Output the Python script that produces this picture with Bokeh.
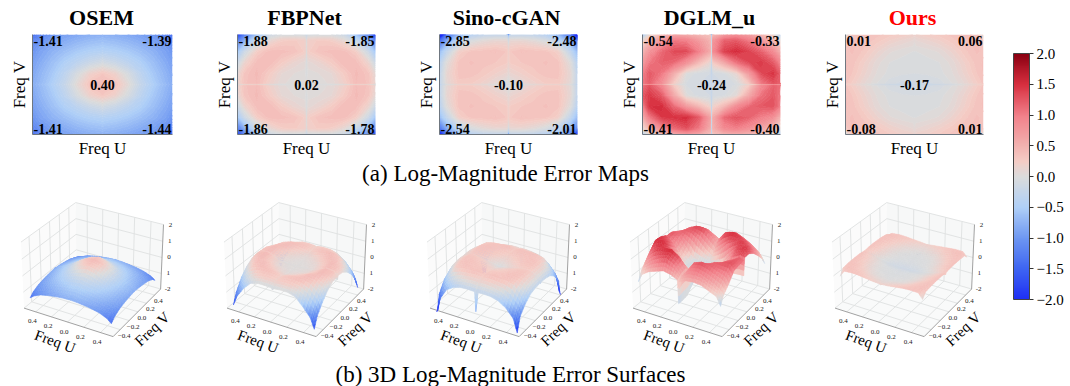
import numpy as np
from bokeh.embed import file_html
from bokeh.resources import INLINE
from bokeh.plotting import figure
from bokeh.layouts import row, column
from bokeh.models import Range1d, FixedTicker, ColorBar, LinearColorMapper
from bokeh.core.properties import value

# ---------- data ----------
methods = ["OSEM", "FBPNet", "Sino-cGAN", "DGLM_u", "Ours"]
title_colors = ["black", "black", "black", "black", "#ff0000"]
center_labels = ["0.40", "0.02", "-0.10", "-0.24", "-0.17"]
corner_labels = [
    ["-1.41", "-1.39", "-1.41", "-1.44"],
    ["-1.88", "-1.85", "-1.86", "-1.78"],
    ["-2.85", "-2.48", "-2.54", "-2.01"],
    ["-0.54", "-0.33", "-0.41", "-0.40"],
    ["0.01", "0.06", "-0.08", "0.01"],
]
freq_u = [-.5, -.45, -.36, -.27, -.18, -.09, -.012, 0, .012, .09, .18, .27, .36, .45, .5]
freq_v = [.5, .44, .33, .22, .11, .012, 0, -.012, -.11, -.22, -.33, -.44, -.5]

osem = [
    [-1.41, -1.22, -1.02, -.92, -.85, -.80, -.78, -.76, -.78, -.80, -.85, -.92, -1.02, -1.20, -1.39],
    [-1.20, -1.05, -.92, -.82, -.74, -.68, -.65, -.63, -.65, -.68, -.74, -.82, -.92, -1.05, -1.18],
    [-1.02, -.90, -.76, -.64, -.54, -.47, -.44, -.42, -.44, -.47, -.54, -.64, -.76, -.90, -1.00],
    [-.92, -.82, -.64, -.48, -.34, -.20, -.12, -.08, -.12, -.20, -.34, -.48, -.64, -.82, -.92],
    [-.86, -.74, -.56, -.34, -.06, .18, .28, .30, .28, .18, -.06, -.34, -.56, -.74, -.86],
    [-.82, -.70, -.50, -.26, .06, .32, .39, .40, .39, .32, .06, -.26, -.50, -.70, -.82],
    [-.80, -.68, -.48, -.24, .07, .33, .40, .40, .40, .33, .07, -.24, -.48, -.68, -.80],
    [-.82, -.70, -.50, -.26, .06, .32, .39, .40, .39, .32, .06, -.26, -.50, -.70, -.82],
    [-.86, -.74, -.56, -.34, -.06, .18, .28, .30, .28, .18, -.06, -.34, -.56, -.74, -.86],
    [-.92, -.82, -.64, -.48, -.34, -.20, -.12, -.08, -.12, -.20, -.34, -.48, -.64, -.82, -.92],
    [-1.02, -.90, -.76, -.64, -.54, -.47, -.44, -.42, -.44, -.47, -.54, -.64, -.76, -.90, -1.02],
    [-1.20, -1.05, -.92, -.82, -.74, -.68, -.65, -.63, -.65, -.68, -.74, -.82, -.92, -1.05, -1.22],
    [-1.41, -1.22, -1.02, -.92, -.85, -.80, -.78, -.76, -.78, -.80, -.85, -.92, -1.02, -1.22, -1.44],
]
fbpnet = [
    [-1.88, -1.25, -.62, -.18, -.05, -.05, -.08, -.18, -.08, -.05, -.05, -.18, -.62, -1.20, -1.85],
    [-1.25, -.80, -.22, .10, .24, .26, .22, -.06, .22, .26, .24, .10, -.22, -.75, -1.20],
    [-.60, -.18, .24, .38, .38, .34, .24, -.06, .24, .34, .38, .38, .24, -.18, -.60],
    [-.18, .15, .38, .40, .26, .14, .08, -.05, .08, .14, .26, .40, .38, .15, -.18],
    [.08, .32, .42, .26, .10, .05, .03, -.03, .03, .05, .10, .26, .42, .32, .08],
    [.14, .34, .40, .20, .06, .03, .02, .00, .02, .03, .06, .20, .40, .34, .14],
    [-.08, -.06, -.05, -.05, -.04, .00, .00, .02, .00, .00, -.04, -.05, -.05, -.06, -.08],
    [.14, .34, .40, .20, .06, .03, .02, .00, .02, .03, .06, .20, .40, .34, .14],
    [.08, .32, .42, .26, .10, .05, .03, -.03, .03, .05, .10, .26, .42, .32, .08],
    [-.18, .15, .38, .40, .26, .14, .08, -.05, .08, .14, .26, .40, .38, .15, -.18],
    [-.60, -.18, .24, .38, .38, .34, .24, -.06, .24, .34, .38, .38, .24, -.18, -.60],
    [-1.25, -.80, -.22, .10, .24, .26, .22, -.06, .22, .26, .24, .10, -.22, -.75, -1.15],
    [-1.86, -1.25, -.62, -.18, -.05, -.05, -.08, -.18, -.08, -.05, -.05, -.18, -.62, -1.15, -1.78],
]
sino = [
    [-2.85, -1.45, -.70, -.42, -.30, -.28, -.30, -1.30, -.30, -.28, -.30, -.42, -.70, -1.40, -2.48],
    [-1.45, -.90, -.34, -.05, .06, .12, .12, -.20, .12, .12, .06, -.05, -.34, -.85, -1.30],
    [-.70, -.30, .22, .32, .34, .36, .30, .15, .30, .36, .34, .32, .22, -.30, -.70],
    [-.40, .02, .32, .36, .32, .30, .26, .15, .26, .30, .32, .36, .32, .02, -.40],
    [-.30, .10, .33, .33, .28, .20, .14, .06, .14, .20, .28, .33, .33, .10, -.30],
    [-.28, .08, .28, .26, .18, .08, .00, -.05, .00, .08, .18, .26, .28, .08, -.28],
    [-.32, -.05, .08, .08, .04, -.05, -.08, -.10, -.08, -.05, .04, .08, .08, -.05, -.32],
    [-.28, .08, .28, .26, .18, .08, .00, -.05, .00, .08, .18, .26, .28, .08, -.28],
    [-.30, .10, .33, .33, .28, .20, .14, .06, .14, .20, .28, .33, .33, .10, -.30],
    [-.40, .02, .32, .36, .32, .30, .26, .15, .26, .30, .32, .36, .32, .02, -.40],
    [-.70, -.30, .22, .32, .34, .36, .30, .15, .30, .36, .34, .32, .22, -.30, -.70],
    [-1.35, -.85, -.34, -.05, .06, .12, .12, -.20, .12, .12, .06, -.05, -.34, -.80, -1.15],
    [-2.54, -1.40, -.70, -.42, -.30, -.28, -.30, -1.50, -.30, -.28, -.30, -.42, -.70, -1.20, -2.01],
]
dglm = [
    [-.54, .10, .40, .60, .55, .45, .35, -1.00, .45, .70, .85, .70, .45, .10, -.33],
    [.10, .45, .80, 1.05, 1.00, .75, .50, -1.00, .80, 1.20, 1.25, 1.05, .80, .45, .10],
    [.50, .80, 1.15, 1.35, 1.35, 1.00, .60, -.95, .90, 1.40, 1.55, 1.40, 1.20, .90, .55],
    [.75, 1.05, 1.20, 1.15, .85, .42, .14, -.55, .30, .60, 1.10, 1.35, 1.45, 1.25, .95],
    [1.00, 1.25, 1.05, .55, .00, -.08, -.10, -.30, -.10, -.06, .12, .75, 1.35, 1.50, 1.20],
    [1.05, 1.20, .85, .25, -.06, -.10, -.12, -.22, -.12, -.10, -.04, .30, 1.05, 1.30, 1.20],
    [.15, .15, .12, .05, -.06, -.10, -.12, -.22, -.12, -.10, -.05, .05, .12, .15, .15],
    [1.10, 1.30, .95, .30, -.05, -.10, -.12, -.22, -.12, -.10, -.03, .28, .90, 1.20, 1.10],
    [1.25, 1.45, 1.25, .60, .02, -.08, -.10, -.28, -.08, -.06, .06, .60, 1.10, 1.25, 1.05],
    [.95, 1.50, 1.55, 1.15, .75, .45, .20, -.55, .20, .45, .90, 1.15, 1.25, 1.30, 1.00],
    [.55, 1.05, 1.45, 1.50, 1.55, 1.25, .70, -.95, .60, 1.15, 1.30, 1.20, 1.00, .85, .50],
    [.10, .50, .90, 1.15, 1.30, 1.05, .60, -1.00, .55, .90, 1.00, .85, .65, .40, .10],
    [-.41, .10, .40, .55, .70, .60, .40, -1.00, .35, .50, .55, .50, .30, .10, -.40],
]
ours = [
    [.01, .30, .34, .32, .28, .24, .20, .18, .20, .24, .28, .32, .36, .34, .06],
    [.28, .36, .34, .28, .20, .14, .10, .06, .10, .14, .20, .28, .34, .37, .30],
    [.34, .36, .28, .16, .06, .02, .00, .00, .00, .02, .06, .16, .28, .36, .34],
    [.36, .33, .20, .07, .00, -.02, -.03, -.03, -.03, -.02, .00, .07, .20, .33, .36],
    [.36, .30, .16, .04, -.02, -.04, -.05, -.05, -.05, -.04, -.02, .04, .16, .30, .36],
    [.32, .24, .10, .00, -.08, -.12, -.12, -.12, -.12, -.12, -.08, .00, .10, .24, .32],
    [.22, .16, .04, -.12, -.20, -.22, -.18, -.17, -.18, -.22, -.20, -.12, .04, .16, .22],
    [.32, .24, .10, .00, -.08, -.12, -.12, -.12, -.12, -.12, -.08, .00, .10, .24, .32],
    [.36, .30, .16, .04, -.02, -.04, -.05, -.05, -.05, -.04, -.02, .04, .16, .30, .36],
    [.36, .33, .20, .07, .00, -.02, -.03, -.03, -.03, -.02, .00, .07, .20, .33, .36],
    [.34, .36, .28, .16, .06, .02, .00, .00, .00, .02, .06, .16, .28, .36, .34],
    [.28, .36, .34, .28, .20, .14, .10, .06, .10, .14, .20, .28, .34, .37, .30],
    [-.08, .30, .34, .32, .26, .20, .18, .14, .18, .20, .26, .32, .34, .32, .01],
]
maps = [osem, fbpnet, sino, dglm, ours]

cbar_ticks = [-2, -1.5, -1, -.5, 0, .5, 1, 1.5, 2]
cbar_labels = ["\u22122.0", "\u22121.5", "\u22121.0", "\u22120.5", "0.0", "0.5", "1.0", "1.5", "2.0"]
cmap_values = [-2, -1.5, -1, -.5, 0, .25, .5, 1, 1.5, 2]
cmap_colors = ["#1f30f5", "#3f66f2", "#6f98f2", "#b0d0f8", "#dcdcdc", "#f5cdc6", "#f3b2b0", "#f2808a", "#d83040", "#8b0012"]

caption_a = "(a) Log-Magnitude Error Maps"
caption_b = "(b) 3D Log-Magnitude Error Surfaces"
uv_ticks = [-.4, -.2, 0, .2, .4]
u_tick_labels = ["0.4", "0.2", "0.0", "0.2", "0.4"]
v_tick_labels = ["\u22120.4", "\u22120.2", "0.0", "0.2", "0.4"]
z_ticks = [-2, -1, 0, 1, 2]
z_tick_labels = ["-2", "1", "0", "1", "2"]

# ---------- style / layout ----------
SERIF = "Liberation Serif"
fig_starts = [0, 211, 413, 616, 819]
fig_ends = [211, 413, 616, 819, 1000]
frame_lefts = [32, 235, 437, 640, 843]
surf_shift = [8, 0, 1, 1, 0]
LIM = 0.55
ZL = 2.0
# where the 3D box corners fall inside a surface panel (pixels from the panel's top-left)
corner_uvz = [(LIM, -LIM, -ZL), (-LIM, -LIM, -ZL), (LIM, LIM, -ZL), (LIM, LIM, ZL), (-LIM, LIM, ZL), (-LIM, -LIM, ZL)]
corner_px = [(105, 151), (15, 121), (153, 102), (154, 37), (67, 17), (13, 56)]
SURF_H = 172


def rgb_of(h):
    return [int(h[i:i + 2], 16) for i in (1, 3, 5)]


stops = np.array([rgb_of(c) for c in cmap_colors], float)


def cmap_hex(vals):
    vals = np.clip(np.asarray(vals, float), -2, 2)
    chans = [np.interp(vals, cmap_values, stops[:, k]) for k in range(3)]
    return ["#%02x%02x%02x" % (int(r), int(g), int(b)) for r, g, b in zip(*chans)]


# matplotlib's default 3D camera (elev 30, azim -60, box aspect 4:4:3)
box = np.array([4., 4., 3.]) * 1.8294640721620434 / np.linalg.norm([4, 4, 3])
el, az = np.radians(30), np.radians(-60)
view = np.array([np.cos(el) * np.cos(az), np.cos(el) * np.sin(az), np.sin(el)])
eye = box / 2 + 10 * view
right = np.array([-np.sin(az), np.cos(az), 0.])
up = np.cross(view, right)


def norm3(u, v, z):
    return np.stack([(np.asarray(u) + LIM) / (2 * LIM) * box[0],
                     (np.asarray(v) + LIM) / (2 * LIM) * box[1],
                     (np.asarray(z) + ZL) / (2 * ZL) * box[2]], axis=-1)


def project(u, v, z):
    d = norm3(u, v, z) - eye
    depth = -(d @ view)
    return (d @ right) / depth, (d @ up) / depth, depth


cu, cv, cz = zip(*corner_uvz)
px, py, _ = project(np.array(cu), np.array(cv), np.array(cz))
pxs = np.array(corner_px, float)
ax, bx = np.polyfit(px, pxs[:, 0], 1)
ay, by = np.polyfit(py, pxs[:, 1], 1)


def heat_figure(i):
    w = fig_ends[i] - fig_starts[i]
    lb = frame_lefts[i] - fig_starts[i]
    p = figure(width=w, height=126, output_backend="svg", toolbar_location=None,
               x_range=Range1d(-.5, .5), y_range=Range1d(-.5, .5),
               min_border_left=lb, min_border_right=w - lb - 140, min_border_top=0, min_border_bottom=20)
    p.outline_line_color = None
    p.grid.visible = False
    for ax_, lab, so in ((p.xaxis[0], "Freq U", 4), (p.yaxis[0], "Freq V", 4)):
        ax_.ticker = FixedTicker(ticks=[])
        ax_.axis_label = lab
        ax_.axis_label_text_font = SERIF
        ax_.axis_label_text_font_size = "17px"
        ax_.axis_label_text_font_style = "normal"
        ax_.axis_label_text_color = "black"
        ax_.axis_label_standoff = so
        ax_.axis_line_color = "#6f7780"
        ax_.axis_line_width = 1
    z = np.array(maps[i], float)[::-1]
    levels = np.arange(-3.0, 2.26, .05)
    mids = (levels[:-1] + levels[1:]) / 2
    p.contour(x=freq_u, y=freq_v[::-1], z=z, levels=list(levels),
              fill_color=cmap_hex(mids), line_color=cmap_hex(levels), line_width=1)
    tu, tv = [-.5, .5, -.5, .5], [.44, .44, -.44, -.44]
    for k in range(4):
        left = tu[k] < 0
        p.text(x=[tu[k]], y=[tv[k]], text=[corner_labels[i][k]], text_font=value(SERIF),
               text_font_size="14px", text_font_style="bold", text_color="black",
               text_align="left" if left else "right", text_baseline="middle",
               x_offset=1 if left else -1)
    p.text(x=[0], y=[0], text=[center_labels[i]], text_font=value(SERIF), text_font_size="14px",
           text_font_style="bold", text_color="black", text_align="center", text_baseline="middle")
    return p


def surf_figure(i):
    w = fig_ends[i] - fig_starts[i]
    # data range that puts the fitted pixel positions where they belong
    x0 = (0 - surf_shift[i] - bx) / ax
    x1 = (w - surf_shift[i] - bx) / ax
    y0 = (SURF_H - by) / ay
    y1 = (0 - by) / ay
    p = figure(width=w, height=SURF_H, output_backend="svg", toolbar_location=None,
               x_range=Range1d(x0, x1), y_range=Range1d(y0, y1),
               x_axis_location=None, y_axis_location=None, min_border=0)
    p.grid.visible = False
    p.outline_line_color = None

    def poly(pts):
        a = np.array(pts, float)
        x, y, _ = project(a[:, 0], a[:, 1], a[:, 2])
        return list(x), list(y)

    L, Z = LIM, ZL
    panes = [poly([(-L, -L, -Z), (-L, L, -Z), (-L, L, Z), (-L, -L, Z)]),
             poly([(-L, L, -Z), (L, L, -Z), (L, L, Z), (-L, L, Z)]),
             poly([(-L, -L, -Z), (L, -L, -Z), (L, L, -Z), (-L, L, -Z)])]
    p.patches([a for a, _ in panes], [b for _, b in panes],
              fill_color=["#fbfbfb", "#f7f8f8", "#f9fafa"], line_color=None)
    segs = []
    for t in uv_ticks:
        segs += [[(t, -L, -Z), (t, L, -Z), (t, L, Z)], [(-L, t, Z), (-L, t, -Z), (L, t, -Z)]]
    for t in z_ticks:
        segs += [[(-L, -L, t), (-L, L, t), (L, L, t)]]
    sx, sy = zip(*[poly(s) for s in segs])
    p.multi_line(list(sx), list(sy), line_color="#dfe1e1", line_width=0.9)
    ex, ey = zip(*[poly(s) for s in [[(-L, -L, -Z), (L, -L, -Z), (L, L, -Z)], [(L, L, -Z), (L, L, Z)]]])
    p.multi_line(list(ex), list(ey), line_color="#8a8a8a", line_width=0.8)

    # surface: cells of the read grid, painted far to near, each shaded in three steps per side
    u = np.array(freq_u)
    v = np.array(freq_v)[::-1]
    z = np.array(maps[i], float)[::-1]
    shade = z.copy()
    # the one-pixel ridge along the centre column reads paler on a surface than in the flat map
    shade[:, 7] = .5 * z[:, 7] + .25 * (z[:, 6] + z[:, 8])
    n = 3
    fu = np.concatenate([np.linspace(u[k], u[k + 1], n, endpoint=False) for k in range(len(u) - 1)] + [u[-1:]])
    fv = np.concatenate([np.linspace(v[k], v[k + 1], n, endpoint=False) for k in range(len(v) - 1)] + [v[-1:]])

    def fine(g):
        tmp = np.array([np.interp(fu, u, r) for r in g])
        return np.array([np.interp(fv, v, tmp[:, c]) for c in range(len(fu))]).T

    fz, fs = fine(z), fine(shade)
    uu, vv = np.meshgrid(fu, fv)
    X, Y, D = project(uu, vv, np.clip(fz, -2.3, 2.0))
    ny, nx = fz.shape
    quads = []
    for a in range(ny - 1):
        for b in range(nx - 1):
            dep = (D[a, b] + D[a + 1, b] + D[a, b + 1] + D[a + 1, b + 1]) / 4
            val = (fs[a, b] + fs[a + 1, b] + fs[a, b + 1] + fs[a + 1, b + 1]) / 4
            quads.append((dep, a, b, val))
    quads.sort(key=lambda q: -q[0])
    qx = [[X[a, b], X[a, b + 1], X[a + 1, b + 1], X[a + 1, b]] for _, a, b, _ in quads]
    qy = [[Y[a, b], Y[a, b + 1], Y[a + 1, b + 1], Y[a + 1, b]] for _, a, b, _ in quads]
    cols = cmap_hex([q[3] for q in quads])
    p.patches(qx, qy, fill_color=cols, line_color=cols, line_width=0.5)

    # tick labels and axis names
    def put(us, vs, zs, labs, size, angle=0, color="#222222", **kw):
        x, y, _ = project(np.array(us, float), np.array(vs, float), np.array(zs, float))
        p.text(x=list(x), y=list(y), text=labs, text_font=value(SERIF), text_font_size=size,
               text_color=color, angle=angle, angle_units="deg", text_align="center",
               text_baseline="middle", **kw)

    m = len(uv_ticks)
    put(uv_ticks, [-L - .07] * m, [-Z - .4] * m, u_tick_labels, "7px")
    put([L + .05] * m, uv_ticks, [-Z - .3] * m, v_tick_labels, "7px")
    put([L] * len(z_ticks), [L] * len(z_ticks), z_ticks, z_tick_labels, "7px", x_offset=7)
    put([0], [-L - .25], [-Z - .5], ["Freq U"], "15px", angle=-20, color="black")
    put([L + .18], [0], [-Z - .8], ["Freq V"], "15px", angle=43, color="black")
    return p


def strip(w, h):
    p = figure(width=w, height=h, output_backend="svg", toolbar_location=None,
               x_range=Range1d(0, w), y_range=Range1d(0, h),
               x_axis_location=None, y_axis_location=None, min_border=0)
    p.grid.visible = False
    p.outline_line_color = None
    return p


def caption(text, w, h, cx, cy):
    p = strip(w, h)
    p.text(x=[cx], y=[cy], text=[text], text_font=value(SERIF), text_font_size="23px",
           text_color="black", text_align="center", text_baseline="middle")
    return p


titles = strip(1000, 34)
titles.text(x=[f + 69 for f in frame_lefts], y=[17] * 5, text=methods, text_color=title_colors,
            text_font=value(SERIF), text_font_size="22px", text_font_style="bold",
            text_align="center", text_baseline="middle")

top = row(*[heat_figure(i) for i in range(5)], spacing=0)
bottom = row(*[surf_figure(i) for i in range(5)], spacing=0)
left = column(titles, top, caption(caption_a, 1000, 26, 505, 13), bottom,
              caption(caption_b, 1000, 28, 510, 12), spacing=0)

cb_fig = figure(width=70, height=386, output_backend="svg", toolbar_location=None,
                x_range=Range1d(0, 1), y_range=Range1d(0, 1),
                x_axis_location=None, y_axis_location=None, min_border=0)
cb_fig.grid.visible = False
cb_fig.outline_line_color = None
palette = cmap_hex(np.linspace(-2, 2, 256))
cb = ColorBar(color_mapper=LinearColorMapper(palette=palette, low=-2, high=2),
              width=16, height=246, location=(13, 87), padding=0, margin=0,
              ticker=FixedTicker(ticks=cbar_ticks),
              major_label_overrides={t: s for t, s in zip(cbar_ticks, cbar_labels)},
              major_label_text_font=SERIF, major_label_text_font_size="15px",
              major_label_text_color="black", major_tick_in=0, major_tick_out=4,
              major_tick_line_color="#333333", minor_tick_line_color=None,
              bar_line_color="#444444", bar_line_width=1, label_standoff=3,
              background_fill_color=None, border_line_color=None)
cb_fig.add_layout(cb, "center")

root = row(left, cb_fig, spacing=0)
open("out.html", "w").write(file_html(root, INLINE))
